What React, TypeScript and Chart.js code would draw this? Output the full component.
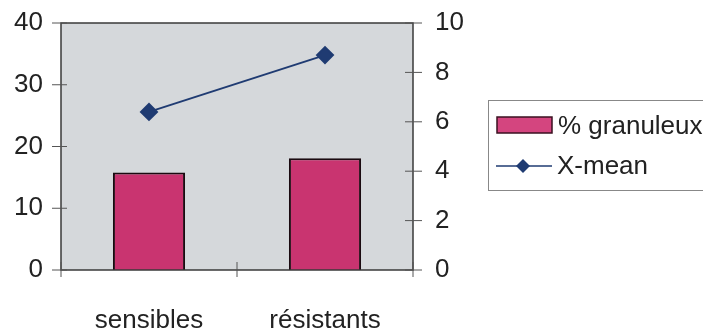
import React, { useEffect, useRef } from "react";
import { Chart, registerables } from "chart.js";

Chart.register(...registerables);

const categories = ["sensibles", "résistants"];
const granuleux = [15.8, 18.1];
const xMean = [6.4, 8.7];
const leftTicks = [0, 10, 20, 30, 40];
const rightTicks = [0, 2, 4, 6, 8, 10];
const seriesNames = ["% granuleux", "X-mean"];

const FONT = "'Liberation Sans', Arial, sans-serif";
const BAR_FILL = "#c93470";
const LINE_COLOR = "#1f3b72";
const AXIS_COLOR = "#3a3a3a";
const PLOT_BG = "#d5d8db";

// Plot background, crossing tick marks, frame and a boxed legend.
const framePlugin = {
  id: "frame",
  beforeDatasetsDraw(chart: any) {
    const { ctx, chartArea: a } = chart;
    ctx.save();
    ctx.fillStyle = PLOT_BG;
    ctx.fillRect(a.left, a.top, a.right - a.left, a.bottom - a.top);
    ctx.restore();
  },
  afterDatasetsDraw(chart: any) {
    const { ctx, chartArea: a, scales } = chart;
    ctx.save();
    ctx.strokeStyle = AXIS_COLOR;
    ctx.lineWidth = 1.5;
    ctx.beginPath();
    ctx.rect(a.left, a.top, a.right - a.left, a.bottom - a.top);
    ctx.stroke();

    ctx.lineWidth = 1;
    ctx.strokeStyle = "#555";
    ctx.beginPath();
    for (const v of leftTicks) {
      const y = scales.y.getPixelForValue(v);
      ctx.moveTo(a.left - 9, y);
      ctx.lineTo(a.left + 6, y);
    }
    for (const v of rightTicks) {
      const y = scales.y1.getPixelForValue(v);
      ctx.moveTo(a.right - 8, y);
      ctx.lineTo(a.right + 9, y);
    }
    const xs = scales.x;
    const n = categories.length;
    for (let i = 0; i <= n; i++) {
      const x = xs.getPixelForValue(i - 0.5);
      ctx.moveTo(x, a.bottom - 8);
      ctx.lineTo(x, a.bottom + 7);
    }
    ctx.stroke();

    // legend
    const lx = a.right + 75;
    const ly = a.top + 77;
    ctx.fillStyle = "#ffffff";
    ctx.fillRect(lx, ly, 240, 90);
    ctx.strokeStyle = "#888";
    ctx.lineWidth = 1;
    ctx.strokeRect(lx + 0.5, ly + 0.5, 240, 90);

    ctx.font = `26px ${FONT}`;
    ctx.textBaseline = "middle";
    ctx.textAlign = "left";

    const r1 = ly + 25;
    ctx.fillStyle = "#d4457f";
    ctx.fillRect(lx + 9, r1 - 8, 55, 16);
    ctx.strokeStyle = "#3a1020";
    ctx.lineWidth = 1.5;
    ctx.strokeRect(lx + 9, r1 - 8, 55, 16);
    ctx.fillStyle = "#222";
    ctx.fillText(seriesNames[0], lx + 70, r1 + 2);

    const r2 = ly + 66;
    ctx.strokeStyle = LINE_COLOR;
    ctx.lineWidth = 1.5;
    ctx.beginPath();
    ctx.moveTo(lx + 8, r2);
    ctx.lineTo(lx + 64, r2);
    ctx.stroke();
    ctx.fillStyle = LINE_COLOR;
    ctx.beginPath();
    ctx.moveTo(lx + 35, r2 - 7);
    ctx.lineTo(lx + 42, r2);
    ctx.lineTo(lx + 35, r2 + 7);
    ctx.lineTo(lx + 28, r2);
    ctx.closePath();
    ctx.fill();
    ctx.fillStyle = "#222";
    ctx.fillText(seriesNames[1], lx + 69, r2 + 1);
    ctx.restore();
  },
};

const fitVertical = (width: number) => (s: any) => {
  s.width = width;
  s.paddingTop = 0;
  s.paddingBottom = 0;
};

export default function App() {
  const ref = useRef<HTMLCanvasElement | null>(null);

  useEffect(() => {
    if (!ref.current) return;
    const chart = new Chart(ref.current, {
      type: "bar",
      data: {
        labels: categories,
        datasets: [
          {
            type: "line",
            label: seriesNames[1],
            data: xMean,
            yAxisID: "y1",
            borderColor: LINE_COLOR,
            backgroundColor: LINE_COLOR,
            borderWidth: 2,
            pointStyle: "rectRot",
            pointRadius: 8,
            pointBackgroundColor: LINE_COLOR,
            pointBorderColor: LINE_COLOR,
            order: 0,
          },
          {
            type: "bar",
            label: seriesNames[0],
            data: granuleux,
            yAxisID: "y",
            backgroundColor: BAR_FILL,
            borderColor: "#1a0a10",
            borderWidth: 2,
            categoryPercentage: 1,
            barPercentage: 0.41,
            order: 1,
          },
        ],
      },
      options: {
        animation: false,
        responsive: false,
        maintainAspectRatio: false,
        layout: { padding: { top: 23, right: 230, bottom: 0, left: 0 } },
        plugins: {
          legend: { display: false },
          tooltip: { enabled: false },
        },
        scales: {
          x: {
            offset: true,
            grid: { display: false },
            border: { display: false },
            ticks: {
              color: "#222",
              font: { family: FONT, size: 26 },
              padding: 27,
            },
            afterFit: (s: any) => {
              s.height = 61;
              s.paddingLeft = 0;
              s.paddingRight = 0;
            },
          },
          y: {
            position: "left",
            min: 0,
            max: 40,
            grid: { display: false },
            border: { display: false },
            ticks: {
              stepSize: 10,
              color: "#222",
              font: { family: FONT, size: 26 },
              padding: 10,
            },
            afterFit: fitVertical(61),
          },
          y1: {
            position: "right",
            min: 0,
            max: 10,
            grid: { display: false },
            border: { display: false },
            ticks: {
              stepSize: 2,
              color: "#222",
              font: { family: FONT, size: 26 },
              padding: 14,
            },
            afterFit: fitVertical(60),
          },
        },
      },
      plugins: [framePlugin],
    });
    return () => chart.destroy();
  }, []);

  return (
    <div style={{ position: "fixed", left: 0, top: 0, width: 703, height: 331, background: "#fff" }}>
      <canvas ref={ref} width={703} height={331} style={{ width: 703, height: 331 }} />
    </div>
  );
}
